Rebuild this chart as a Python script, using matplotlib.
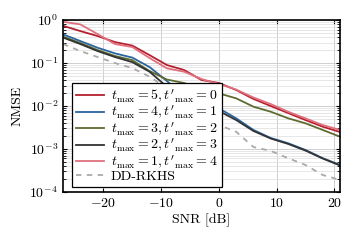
import numpy as np
from matplotlib import pyplot as plt

plt.rcParams['font.family'] = ['cmr10', 'DejaVu Serif']
plt.rcParams['mathtext.fontset'] = 'cm'
plt.rcParams['axes.formatter.use_mathtext'] = True
plt.rcParams['font.size'] = 10

snr = [-27, -24, -21, -18, -15, -12, -9, -6, -3, 0, 3, 6, 9, 12, 15, 18, 21]

nmse_t5 = [0.737, 0.555, 0.425, 0.308, 0.255, 0.153, 0.0899, 0.0687, 0.0403, 0.0343, 0.0236,
           0.0146, 0.0100, 0.00687, 0.00472, 0.0033, 0.00248]
nmse_t4 = [0.465, 0.325, 0.227, 0.168, 0.134, 0.0807, 0.0381, 0.018, 0.0120, 0.00885, 0.00518,
           0.00277, 0.0018, 0.00136, 0.00095, 0.00061, 0.000425]
nmse_t3 = [0.413, 0.292, 0.200, 0.146, 0.117, 0.0652, 0.0413, 0.0343, 0.0236, 0.0197, 0.0151,
           0.00964, 0.00736, 0.00518, 0.00396, 0.00277, 0.00193]
nmse_t2 = [0.392, 0.277, 0.190, 0.138, 0.105, 0.0628, 0.0281, 0.0151, 0.0105, 0.00766, 0.00472,
           0.00262, 0.00175, 0.00131, 0.00092, 0.0006, 0.000413]
nmse_t1 = [0.913, 0.794, 0.472, 0.277, 0.236, 0.131, 0.0753, 0.0628, 0.0425, 0.0325, 0.0242,
           0.0158, 0.0111, 0.00736, 0.00518, 0.00361, 0.00277]
nmse_rkhs = [0.277, 0.19, 0.138, 0.100, 0.0765, 0.048, 0.0262, 0.0131, 0.00555, 0.00361, 0.00252,
             0.00111, 0.0009, 0.00061, 0.000425, 0.000248, 0.00019]

labels = [r"$t_{\max} = 5, t'_{\max} = 0$",
          r"$t_{\max} = 4, t'_{\max} = 1$",
          r"$t_{\max} = 3, t'_{\max} = 2$",
          r"$t_{\max} = 2, t'_{\max} = 3$",
          r"$t_{\max} = 1, t'_{\max} = 4$",
          "DD-RKHS"]
colors = ["#b5202e", "#2a64a0", "#5d6b30", "#333333", "#e0707e", "#aaaaaa"]

fig = plt.figure(figsize=(3.56, 2.42), dpi=100)
ax = fig.add_axes([0.177, 0.207, 0.778, 0.71])

series = [nmse_t5, nmse_t4, nmse_t3, nmse_t2, nmse_t1]
for s, lab, c in zip(series, labels[:5], colors[:5]):
    ax.plot(snr, s, color=c, lw=1.3, label=lab)
ax.plot(snr, nmse_rkhs, color=colors[5], lw=1.3, ls=(0, (3, 3)), label=labels[5])

ax.set_yscale('log')
ax.set_xlim(-27, 21)
ax.set_ylim(1e-4, 1)
ax.set_xticks([-20, -10, 0, 10, 20])
ax.grid(True, which='major', color='#c8c8c8', lw=0.6)
ax.grid(True, which='minor', color='#dddddd', lw=0.5)
ax.tick_params(which='both', direction='in', top=True, right=True)
ax.tick_params(which='major', length=3)
ax.tick_params(which='minor', length=2)
for sp in ax.spines.values():
    sp.set_linewidth(1.2)

ax.set_xlabel("SNR [dB]", labelpad=3)
ax.set_ylabel("NMSE")

leg = ax.legend(loc='lower left', bbox_to_anchor=(0.032, 0.03), borderaxespad=0,
                fancybox=False, framealpha=1, edgecolor='black',
                handlelength=2.0, labelspacing=-0.05, borderpad=0.3,
                handletextpad=0.5)
leg.get_frame().set_linewidth(0.9)

fig.savefig("out.png", dpi=100)
